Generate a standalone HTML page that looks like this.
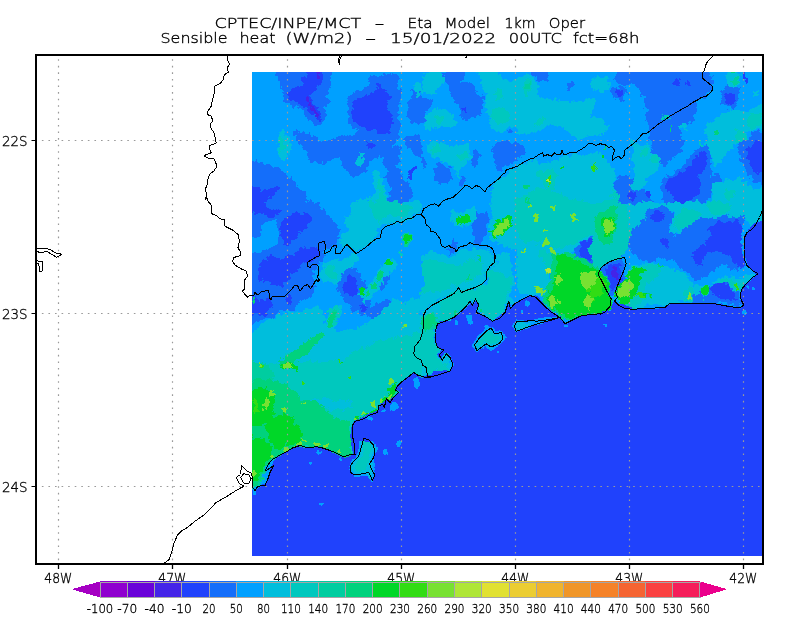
<!DOCTYPE html><html><head><meta charset="utf-8"><title>Sensible heat</title>
<style>html,body{margin:0;padding:0;background:#fff}svg{display:block}text{font-family:"DejaVu Sans","Liberation Sans",sans-serif;font-weight:200;fill:#000;stroke:#000;stroke-width:0.35px}</style></head><body>
<svg width="800" height="618" viewBox="0 0 800 618">
<rect width="800" height="618" fill="#fff"/>
<defs><clipPath id="fc"><rect x="252" y="72" width="510" height="484"/></clipPath></defs>
<filter id="wob" x="0" y="0" width="100%" height="100%" filterUnits="objectBoundingBox" color-interpolation-filters="sRGB"><feTurbulence type="fractalNoise" baseFrequency="0.045" numOctaves="3" seed="7" result="n"/><feDisplacementMap in="SourceGraphic" in2="n" scale="14" xChannelSelector="R" yChannelSelector="G" result="d1"/><feTurbulence type="fractalNoise" baseFrequency="0.22" numOctaves="2" seed="11" result="n2"/><feDisplacementMap in="d1" in2="n2" scale="7" xChannelSelector="G" yChannelSelector="R"/></filter>
<filter id="wob2" x="0" y="0" width="100%" height="100%" filterUnits="objectBoundingBox" color-interpolation-filters="sRGB"><feTurbulence type="fractalNoise" baseFrequency="0.09" numOctaves="2" seed="3" result="n"/><feDisplacementMap in="SourceGraphic" in2="n" scale="5" xChannelSelector="R" yChannelSelector="G"/></filter>
<g clip-path="url(#fc)" shape-rendering="crispEdges"><g filter="url(#wob)">
<rect x="222" y="42" width="570" height="544" fill="#00a0ff"/>
<rect x="252" y="72" width="510" height="484" fill="#00a0ff"/>
<polygon points="274.3,57.0 332.7,57.0 330.6,82.6 326.4,91.1 325.3,103.9 324.2,116.6 322.1,123.0 315.7,125.1 307.2,120.9 301.9,110.2 292.4,107.1 286.0,101.7 283.9,93.2 277.5,86.9" fill="#146efa"/>
<polygon points="345.5,101.7 356.1,91.1 368.9,84.7 377.4,76.2 388.0,74.1 398.6,78.4 400.7,93.2 398.6,106.0 396.5,114.5 400.7,125.1 398.6,135.7 392.2,142.1 400.7,146.4 398.6,161.2 388.0,165.5 379.5,157.0 371.0,161.2 366.7,169.7 360.4,174.0 354.0,178.2 345.5,171.9 343.4,163.4 337.0,157.0 326.4,161.2 315.7,165.5 309.4,161.2 305.1,152.7 300.9,144.2 294.5,142.1 290.2,133.6 294.5,129.4 303.0,133.6 313.6,135.7 322.1,142.1 332.7,142.1 343.4,137.9 354.0,135.7 358.2,129.4 351.9,120.9 347.6,112.4" fill="#146efa"/>
<polygon points="237.0,163.4 264.7,165.5 277.5,163.4 288.1,174.0 296.6,184.6 304.1,193.1 305.1,202.0 237.0,202.0" fill="#146efa"/>
<polygon points="388.0,163.4 400.7,167.6 405.0,178.2 410.3,191.0 408.2,202.0 388.0,202.0 391.2,191.0 385.9,178.2" fill="#146efa"/>
<polygon points="409.2,93.2 422.0,91.1 422.0,120.9 415.6,127.2 409.2,118.7 411.4,106.0" fill="#146efa"/>
<polygon points="407.1,135.7 422.0,133.6 422.0,161.2 413.5,157.0 408.2,146.4" fill="#146efa"/>
<polygon points="441.1,76.2 453.9,57.0 462.4,74.1 460.2,80.5 470.9,86.9 481.5,95.4 483.6,106.0 479.4,114.5 473.0,118.7 464.5,123.0 460.2,114.5 459.2,103.9 453.9,95.4 445.4,86.9 440.1,80.5" fill="#146efa"/>
<polygon points="494.2,144.2 507.0,142.1 515.5,146.4 521.9,152.7 524.0,157.0 515.5,163.4 507.0,165.5 502.7,169.7 496.4,169.7 492.1,161.2 494.2,152.7" fill="#146efa"/>
<ellipse cx="474.7" cy="155.9" rx="3.6" ry="9.6" fill="#146efa"/>
<polygon points="434.7,167.6 445.4,165.5 449.6,171.9 447.5,182.5 441.1,184.6 434.7,178.2" fill="#146efa"/>
<polygon points="422.0,97.5 429.4,99.6 428.4,108.1 422.0,112.4" fill="#146efa"/>
<ellipse cx="509.5" cy="131.5" rx="3.8" ry="2.1" fill="#146efa"/>
<ellipse cx="569.7" cy="86.9" rx="3.2" ry="4.2" fill="#146efa"/>
<polygon points="528.2,57.0 549.5,57.0 547.4,78.4 536.7,80.5 530.4,76.2" fill="#146efa"/>
<ellipse cx="446.4" cy="155.9" rx="3.2" ry="5.3" fill="#146efa"/>
<ellipse cx="462.4" cy="180.4" rx="4.2" ry="4.2" fill="#146efa"/>
<polygon points="422.0,157.0 426.2,159.1 426.2,167.6 422.0,168.7" fill="#146efa"/>
<polygon points="615.4,57.0 685.5,57.0 702.5,57.0 711.0,84.7 711.0,95.4 702.5,99.6 698.2,108.1 691.9,118.7 685.5,127.2 681.2,135.7 685.5,144.2 681.2,152.7 672.7,157.0 666.4,165.5 660.0,163.4 655.7,154.9 651.5,146.4 647.2,135.7 646.2,114.5 645.1,95.4 638.7,95.4 634.5,84.7 623.9,82.6 617.5,78.4" fill="#146efa"/>
<polygon points="664.2,178.2 672.7,171.9 683.4,163.4 691.9,152.7 700.4,144.2 708.9,146.4 711.0,157.0 708.9,167.6 711.0,178.2 719.5,174.0 723.7,182.5 715.2,191.0 706.7,199.5 704.6,202.0 664.2,202.0" fill="#146efa"/>
<polygon points="740.7,142.1 753.5,131.5 777.0,129.4 777.0,178.2 753.5,182.5 745.0,171.9 742.9,157.0" fill="#146efa"/>
<ellipse cx="730.1" cy="96.4" rx="8.5" ry="12.7" fill="#146efa"/>
<ellipse cx="619.6" cy="93.2" rx="6.4" ry="8.5" fill="#146efa"/>
<polygon points="617.5,178.2 628.1,171.9 634.5,178.2 636.6,188.9 647.2,191.0 653.6,199.5 651.5,202.0 613.2,202.0 615.4,191.0" fill="#146efa"/>
<polygon points="592.0,191.0 604.7,193.1 604.7,202.0 592.0,202.0" fill="#146efa"/>
<polygon points="237.0,202.0 322.1,202.0 324.2,214.7 337.0,223.2 341.2,233.9 337.0,244.5 324.2,250.9 322.1,259.4 315.7,265.7 313.6,276.4 317.9,287.0 311.5,295.5 300.9,299.7 294.5,308.2 281.7,312.5 269.0,321.0 237.0,323.1" fill="#146efa"/>
<polygon points="337.0,272.1 349.7,265.7 360.4,274.2 364.6,287.0 366.7,297.6 371.0,308.2 362.5,314.6 354.0,310.4 345.5,304.0 337.0,295.5 335.9,282.7" fill="#146efa"/>
<polygon points="377.4,282.7 388.0,274.2 392.2,280.6 383.7,291.2 375.2,289.1" fill="#146efa"/>
<polygon points="371.0,304.0 388.0,301.9 400.7,312.5 396.5,325.2 383.7,332.0 371.0,332.0 375.2,321.0 366.7,312.5" fill="#146efa"/>
<polygon points="473.0,214.7 485.7,212.6 487.9,227.5 483.6,240.2 475.1,242.4 470.9,229.6" fill="#146efa"/>
<polygon points="449.6,240.2 458.1,242.4 456.0,250.9 447.5,248.7" fill="#146efa"/>
<polygon points="577.1,238.1 592.0,233.9 592.0,263.6 583.5,263.6 577.1,253.0" fill="#146efa"/>
<polygon points="630.2,231.7 643.0,221.1 651.5,208.4 664.2,206.2 672.7,214.7 670.6,225.4 674.9,236.0 683.4,227.5 694.0,219.0 706.7,216.9 723.7,214.7 740.7,216.9 745.0,229.6 743.9,263.6 736.5,272.1 723.7,265.7 711.0,272.1 698.2,280.6 687.6,276.4 677.0,267.9 672.7,257.2 662.1,255.1 653.6,261.5 643.0,259.4 634.5,255.1 628.1,244.5" fill="#146efa"/>
<polygon points="694.0,291.2 711.0,284.9 730.1,287.0 740.7,293.4 740.7,308.2 711.0,302.9 694.0,301.9" fill="#146efa"/>
<polygon points="598.4,270.0 609.0,262.6 623.9,258.3 626.0,263.6 619.6,280.6 615.4,293.4 612.2,297.6 606.9,287.0 600.5,276.4" fill="#146efa"/>
<polygon points="305.1,332.0 354.0,332.0 341.2,338.4 315.7,338.4" fill="#146efa"/>
<polygon points="303.0,351.1 307.2,344.7 311.5,353.2 307.2,363.9 303.0,359.6" fill="#146efa"/>
<ellipse cx="273.2" cy="347.3" rx="3.2" ry="2.1" fill="#146efa"/>
<ellipse cx="330.6" cy="375.6" rx="1.7" ry="1.7" fill="#146efa"/>
<ellipse cx="335.9" cy="385.1" rx="1.3" ry="2.1" fill="#146efa"/>
<ellipse cx="588.0" cy="250.0" rx="7.0" ry="11.0" fill="#146efa"/>
<polygon points="288.1,93.2 300.9,84.7 307.2,76.2 315.7,57.0 325.3,57.0 322.1,80.5 315.7,84.7 313.6,93.2 315.7,103.9 320.0,114.5 317.9,119.8 311.5,114.5 305.1,106.0 298.7,101.7 290.2,99.6" fill="#2042fc"/>
<polygon points="351.9,103.9 358.2,97.5 371.0,93.2 379.5,85.8 384.8,87.9 388.0,97.5 386.9,110.2 390.1,120.9 388.0,131.5 379.5,133.6 375.2,129.4 371.0,130.4 364.6,127.2 358.2,120.9 351.9,114.5" fill="#2042fc"/>
<polygon points="362.5,143.2 371.0,141.1 374.2,145.3 368.9,149.6 362.9,147.4" fill="#2042fc"/>
<polygon points="237.0,182.5 264.7,186.7 277.5,184.6 280.7,191.0 273.2,197.4 264.7,202.0 237.0,202.0" fill="#2042fc"/>
<ellipse cx="411.8" cy="175.1" rx="2.1" ry="5.9" fill="#2042fc"/>
<ellipse cx="464.5" cy="109.2" rx="2.1" ry="3.8" fill="#2042fc"/>
<polygon points="668.5,178.2 677.0,174.0 685.5,167.6 694.0,157.0 700.4,148.5 704.6,150.6 702.5,163.4 700.4,174.0 702.5,184.6 698.2,195.2 689.7,202.0 672.7,202.0 668.5,191.0" fill="#2042fc"/>
<polygon points="749.2,142.1 777.0,135.7 777.0,171.9 755.6,174.0 750.3,163.4 748.2,152.7" fill="#2042fc"/>
<ellipse cx="730.1" cy="97.5" rx="4.2" ry="7.4" fill="#2042fc"/>
<ellipse cx="742.9" cy="78.4" rx="2.5" ry="5.3" fill="#2042fc"/>
<ellipse cx="619.6" cy="93.2" rx="3.2" ry="4.2" fill="#2042fc"/>
<ellipse cx="674.9" cy="80.5" rx="3.8" ry="4.2" fill="#2042fc"/>
<ellipse cx="687.6" cy="81.6" rx="3.2" ry="3.2" fill="#2042fc"/>
<ellipse cx="634.5" cy="195.2" rx="3.2" ry="4.2" fill="#2042fc"/>
<ellipse cx="649.4" cy="194.2" rx="2.5" ry="3.2" fill="#2042fc"/>
<polygon points="237.0,202.0 264.7,202.0 262.6,210.5 273.2,210.5 277.5,214.7 269.0,219.0 258.4,214.7 237.0,216.9" fill="#2042fc"/>
<polygon points="281.7,219.0 294.5,210.5 307.2,212.6 313.6,219.0 307.2,225.4 300.9,229.6 296.6,240.2 288.1,244.5 281.7,236.0 279.6,227.5" fill="#2042fc"/>
<polygon points="258.4,261.5 269.0,255.1 283.9,257.2 294.5,250.9 307.2,247.7 317.9,248.7 315.7,257.2 307.2,261.5 303.0,270.0 296.6,276.4 286.0,280.6 281.7,287.0 271.1,282.7 260.5,276.4 258.4,267.9" fill="#2042fc"/>
<polygon points="343.4,274.2 349.7,270.0 356.1,276.4 358.2,287.0 356.1,295.5 347.6,297.6 341.2,291.2 341.2,280.6" fill="#2042fc"/>
<polygon points="237.0,301.9 260.5,297.6 271.1,299.7 273.2,308.2 264.7,314.6 237.0,313.6" fill="#2042fc"/>
<ellipse cx="290.2" cy="297.6" rx="4.7" ry="4.7" fill="#2042fc"/>
<ellipse cx="361.4" cy="306.1" rx="3.2" ry="4.2" fill="#2042fc"/>
<polygon points="583.5,240.2 592.0,238.1 592.0,259.4 585.6,259.4 581.4,250.9" fill="#2042fc"/>
<polygon points="602.6,271.1 611.1,265.7 620.7,263.6 618.6,276.4 614.3,287.0 610.1,287.0 604.7,278.5" fill="#2042fc"/>
<polygon points="706.7,229.6 719.5,223.2 736.5,221.1 745.0,229.6 743.9,261.5 740.7,265.7 728.0,255.1 715.2,250.9 706.7,255.1 702.5,263.6 694.0,261.5 694.0,253.0 704.6,244.5 708.9,236.0" fill="#2042fc"/>
<ellipse cx="657.9" cy="216.9" rx="4.2" ry="6.4" fill="#2042fc"/>
<ellipse cx="665.3" cy="243.4" rx="3.2" ry="3.2" fill="#2042fc"/>
<polygon points="711.0,287.0 719.5,284.9 728.0,289.1 736.5,295.5 738.6,301.9 723.7,301.9 713.1,295.5" fill="#2042fc"/>
<ellipse cx="588.0" cy="250.0" rx="3.6" ry="7.0" fill="#2042fc"/>
<polygon points="315.7,77.3 318.9,57.0 323.2,57.0 319.6,79.4" fill="#4424e8"/>
<polygon points="308.9,97.5 311.5,96.4 316.8,116.6 314.7,117.7" fill="#4424e8"/>
<ellipse cx="612.2" cy="272.1" rx="3.2" ry="4.2" fill="#4424e8"/>
<ellipse cx="283.9" cy="145.3" rx="6.4" ry="12.7" fill="#00bedc"/>
<ellipse cx="361.4" cy="159.1" rx="3.8" ry="4.7" fill="#00bedc"/>
<polygon points="371.0,171.9 379.5,169.7 383.7,178.2 384.8,191.0 388.0,202.0 371.0,202.0 373.1,191.0 369.9,182.5" fill="#00bedc"/>
<ellipse cx="417.7" cy="91.1" rx="3.8" ry="6.4" fill="#00bedc"/>
<polygon points="473.0,57.0 492.1,57.0 502.7,80.5 515.5,78.4 524.0,76.2 536.7,82.6 541.0,93.2 553.7,97.5 570.7,99.6 592.0,97.5 592.0,135.7 579.2,142.1 568.6,135.7 558.0,127.2 545.2,129.4 534.6,133.6 521.9,131.5 515.5,125.1 507.0,127.2 496.4,133.6 487.9,129.4 484.7,120.9 486.8,110.2 485.7,95.4 479.4,84.7" fill="#00bedc"/>
<polygon points="428.4,142.1 443.2,140.0 456.0,144.2 468.7,142.1 470.9,157.0 466.6,167.6 456.0,174.0 451.7,165.5 443.2,163.4 434.7,161.2 430.5,152.7" fill="#00bedc"/>
<polygon points="422.0,114.5 430.5,110.2 443.2,108.1 456.0,114.5 458.1,125.1 447.5,129.4 434.7,127.2 422.0,131.5" fill="#00bedc"/>
<polygon points="422.0,74.1 439.0,57.0 442.2,82.6 436.9,93.2 428.4,95.4 422.0,91.1" fill="#00bedc"/>
<polygon points="507.0,174.0 521.9,165.5 536.7,159.1 549.5,161.2 560.1,165.5 566.5,174.0 564.4,186.7 558.0,202.0 504.9,202.0" fill="#00bedc"/>
<polygon points="592.0,114.5 604.7,116.6 611.1,125.1 604.7,135.7 592.0,135.7" fill="#00bedc"/>
<polygon points="592.0,80.5 602.6,76.2 613.2,80.5 611.1,91.1 600.5,93.2 592.0,91.1" fill="#00bedc"/>
<polygon points="630.2,142.1 645.1,144.2 655.7,152.7 662.1,161.2 655.7,171.9 645.1,182.5 638.7,191.0 632.4,184.6 634.5,171.9 630.2,161.2 628.1,150.6" fill="#00bedc"/>
<polygon points="706.7,120.9 719.5,114.5 732.2,110.2 745.0,108.1 777.0,103.9 777.0,131.5 753.5,129.4 745.0,135.7 736.5,144.2 728.0,152.7 719.5,161.2 713.1,165.5 711.0,152.7 706.7,144.2 711.0,135.7 704.6,131.5" fill="#00bedc"/>
<polygon points="715.2,186.7 728.0,178.2 740.7,182.5 753.5,186.7 777.0,186.7 777.0,202.0 711.0,202.0" fill="#00bedc"/>
<polygon points="685.5,120.9 691.9,123.0 687.6,131.5 683.4,129.4" fill="#00bedc"/>
<ellipse cx="732.7" cy="79.4" rx="5.3" ry="8.5" fill="#00bedc"/>
<ellipse cx="757.7" cy="94.3" rx="4.2" ry="3.2" fill="#00bedc"/>
<polygon points="592.0,152.7 600.5,154.9 602.6,167.6 598.4,178.2 592.0,178.2" fill="#00bedc"/>
<polygon points="354.0,202.0 422.0,202.0 422.0,214.7 413.5,216.9 400.7,221.1 383.7,225.4 377.4,238.1 366.7,246.6 356.1,253.0 347.6,244.5 341.2,240.2 345.5,227.5 343.4,214.7 351.9,210.5" fill="#00bedc"/>
<polygon points="324.2,263.6 341.2,257.2 358.2,255.1 362.5,261.5 349.7,265.7 339.1,272.1 334.9,280.6 326.4,280.6 322.1,272.1" fill="#00bedc"/>
<polygon points="358.2,295.5 371.0,282.7 379.5,267.9 392.2,259.4 398.6,265.7 390.1,276.4 383.7,282.7 377.4,291.2 368.9,297.6 362.5,301.9" fill="#00bedc"/>
<polygon points="326.4,321.0 332.7,310.4 341.2,304.0 345.5,310.4 341.2,321.0 334.9,327.4 324.2,332.0 315.7,332.0 320.0,325.2" fill="#00bedc"/>
<polygon points="288.1,314.6 303.0,308.2 315.7,312.5 322.1,323.1 315.7,332.0 290.2,332.0 286.0,323.1" fill="#00bedc"/>
<polygon points="513.4,202.0 592.0,202.0 592.0,236.0 577.1,238.1 575.0,255.1 558.0,257.2 549.5,272.1 553.7,287.0 545.2,295.5 532.5,293.4 521.9,295.5 515.5,287.0 517.6,265.7 515.5,244.5 513.4,223.2" fill="#00bedc"/>
<polygon points="422.0,255.1 434.7,250.9 447.5,253.0 464.5,250.9 477.2,246.6 492.1,250.9 494.2,261.5 485.7,272.1 483.6,282.7 464.5,291.2 449.6,295.5 434.7,301.9 422.0,312.5" fill="#00bedc"/>
<polygon points="453.9,210.5 475.1,210.5 473.0,223.2 460.2,227.5 451.7,221.1" fill="#00bedc"/>
<polygon points="492.1,214.7 511.2,212.6 517.6,227.5 511.2,244.5 496.4,244.5 490.0,233.9" fill="#00bedc"/>
<polygon points="628.1,202.0 777.0,202.0 777.0,212.6 749.2,227.5 740.7,219.0 723.7,214.7 706.7,216.9 694.0,219.0 683.4,227.5 674.9,233.9 671.7,223.2 672.7,212.6 664.2,206.2 651.5,208.4 643.0,221.1 630.2,231.7 628.1,219.0" fill="#00bedc"/>
<polygon points="626.0,272.1 645.1,261.5 662.1,263.6 672.7,272.1 685.5,280.6 702.5,284.9 711.0,282.7 732.2,278.5 747.1,274.2 755.6,273.2 745.0,284.9 738.6,293.4 728.0,287.0 711.0,284.9 694.0,291.2 694.0,301.9 670.6,302.9 664.2,307.2 634.5,309.3 623.9,306.1 615.4,301.9 619.6,287.0" fill="#00bedc"/>
<polygon points="237.0,353.2 264.7,351.1 283.9,346.9 305.1,353.2 322.1,344.7 341.2,342.6 362.5,344.7 379.5,338.4 400.7,332.0 422.0,332.0 422.0,462.0 237.0,462.0" fill="#00bedc"/>
<polygon points="422.5,315.0 426.2,310.0 440.0,301.2 453.8,293.8 458.8,287.5 461.2,292.5 475.0,287.5 487.0,278.8 486.2,272.5 494.5,262.5 495.5,255.0 510.0,255.0 512.5,290.0 515.0,302.5 508.8,301.2 505.0,312.5 500.0,318.0 492.5,321.2 476.2,312.5 478.8,305.0 475.5,298.8 470.0,301.2 461.2,311.2 453.8,317.5 437.5,323.8 435.0,340.0 437.5,347.5 443.8,350.0 450.0,357.5 453.0,364.5 450.0,371.2 431.2,377.0 415.0,377.0 411.2,373.8 400.0,382.5 400.0,315.0" fill="#00bedc"/>
<polygon points="495.0,185.0 510.0,172.5 540.0,162.5 572.5,155.0 595.0,150.0 610.0,162.5 615.0,180.0 617.5,202.5 630.0,215.0 625.0,235.0 610.0,245.0 590.0,235.0 572.5,250.0 552.5,250.0 527.5,245.0 505.0,250.0 490.0,240.0 490.0,202.5" fill="#00bedc"/>
<polygon points="237.0,340.1 264.7,323.1 286.0,312.5 315.7,308.2 324.2,318.9 337.0,331.6 358.2,329.5 371.0,321.0 383.7,312.5 400.7,301.9 422.0,295.5 422.0,400.0 237.0,400.0" fill="#00bedc"/>
<ellipse cx="282.2" cy="146.4" rx="3.0" ry="6.8" fill="#00c8be"/>
<polygon points="376.3,182.5 380.6,180.4 382.7,191.0 383.7,202.0 377.4,202.0" fill="#00c8be"/>
<polygon points="487.9,114.5 496.4,108.1 507.0,110.2 511.2,118.7 504.9,125.1 494.2,124.1" fill="#00c8be"/>
<ellipse cx="527.2" cy="86.9" rx="4.2" ry="7.4" fill="#00c8be"/>
<ellipse cx="541.0" cy="121.9" rx="4.2" ry="3.2" fill="#00c8be"/>
<ellipse cx="501.7" cy="95.4" rx="3.2" ry="4.2" fill="#00c8be"/>
<ellipse cx="437.9" cy="149.6" rx="3.2" ry="5.3" fill="#00c8be"/>
<ellipse cx="464.5" cy="157.0" rx="4.2" ry="4.2" fill="#00c8be"/>
<ellipse cx="436.9" cy="119.8" rx="6.4" ry="4.7" fill="#00c8be"/>
<polygon points="536.7,169.7 549.5,167.6 558.0,174.0 555.9,186.7 547.4,193.1 538.9,186.7" fill="#00c8be"/>
<ellipse cx="643.0" cy="151.7" rx="4.2" ry="5.3" fill="#00c8be"/>
<ellipse cx="655.7" cy="160.2" rx="4.2" ry="5.3" fill="#00c8be"/>
<ellipse cx="665.3" cy="118.3" rx="3.2" ry="2.1" fill="#00c8be"/>
<ellipse cx="741.8" cy="134.7" rx="5.3" ry="7.4" fill="#00c8be" transform="rotate(30 741.8 134.7)"/>
<ellipse cx="754.6" cy="120.9" rx="5.3" ry="6.4" fill="#00c8be"/>
<ellipse cx="730.1" cy="195.2" rx="6.4" ry="4.2" fill="#00c8be"/>
<ellipse cx="701.0" cy="141.1" rx="1.7" ry="4.7" fill="#00c8be"/>
<ellipse cx="615.4" cy="197.8" rx="4.2" ry="4.2" fill="#00c8be"/>
<polygon points="371.0,202.0 400.7,202.0 413.5,208.4 400.7,216.9 388.0,214.7 379.5,223.2 371.0,214.7" fill="#00c8be"/>
<ellipse cx="331.7" cy="271.1" rx="5.3" ry="5.3" fill="#00c8be"/>
<ellipse cx="400.7" cy="251.9" rx="2.1" ry="3.2" fill="#00c8be"/>
<polygon points="422.0,261.5 439.0,259.4 456.0,263.6 475.1,257.2 485.7,263.6 481.5,276.4 468.7,282.7 453.9,287.0 439.0,291.2 426.2,295.5 422.0,293.4" fill="#00c8be"/>
<polygon points="541.0,253.0 558.0,250.9 570.7,257.2 579.2,265.7 592.0,263.6 592.0,308.2 579.2,312.5 566.5,314.6 555.9,312.5 547.4,304.0 541.0,295.5 549.5,287.0 553.7,274.2 545.2,265.7" fill="#00c8be"/>
<polygon points="524.0,202.0 592.0,202.0 592.0,223.2 570.7,231.7 558.0,244.5 541.0,246.6 528.2,240.2 521.9,223.2" fill="#00c8be"/>
<polygon points="672.7,214.7 685.5,210.5 698.2,214.7 691.9,223.2 681.2,225.4 673.8,221.1" fill="#00c8be"/>
<polygon points="706.7,202.0 728.0,202.0 723.7,212.6 711.0,212.6" fill="#00c8be"/>
<polygon points="623.9,274.2 640.9,265.7 653.6,263.6 662.1,267.9 655.7,276.4 647.2,287.0 638.7,295.5 645.1,301.9 634.5,308.2 623.9,305.1 616.4,297.6 619.6,284.9" fill="#00c8be"/>
<polygon points="685.5,287.0 694.0,284.9 694.0,299.7 685.5,301.9" fill="#00c8be"/>
<polygon points="702.5,284.9 711.0,282.7 708.9,293.4 702.5,295.5" fill="#00c8be"/>
<polygon points="719.5,282.7 740.7,278.5 747.1,282.7 740.7,291.2 732.2,287.0 721.6,287.0" fill="#00c8be"/>
<polygon points="592.0,202.0 628.1,202.0 628.1,219.0 630.2,231.7 628.1,244.5 623.9,258.3 609.0,262.6 598.4,270.0 592.0,274.2" fill="#00c8be"/>
<polygon points="237.0,370.2 269.0,366.0 286.0,370.2 300.9,374.5 303.0,393.6 315.7,406.4 332.7,409.6 347.6,404.2 354.0,393.6 364.6,387.2 379.5,380.9 396.5,370.2 413.5,363.9 422.0,366.0 422.0,462.0 237.0,462.0" fill="#00c8be"/>
<polygon points="281.7,353.2 298.7,351.1 300.9,366.0 286.0,370.2" fill="#00c8be"/>
<polygon points="423.8,317.5 435.0,315.0 437.5,323.8 435.0,340.0 437.5,347.5 442.5,351.2 440.0,357.5 448.8,360.0 450.0,370.0 431.2,376.2 426.2,367.5 422.5,365.0 413.8,353.8 415.0,346.2 420.0,340.0 422.5,332.5" fill="#00c8be"/>
<polygon points="440.0,302.5 457.5,290.0 475.0,288.8 485.0,282.5 487.5,272.5 500.0,270.0 510.0,277.5 510.0,300.0 505.0,311.2 492.5,320.0 477.5,311.2 475.0,300.0 467.5,305.0 453.8,316.2 437.5,322.5" fill="#00c8be"/>
<polygon points="515.0,200.0 535.0,190.0 565.0,195.0 590.0,205.0 610.0,200.0 615.0,215.0 607.5,235.0 590.0,232.5 572.5,245.0 550.0,247.5 527.5,240.0 515.0,222.5" fill="#00c8be"/>
<polygon points="237.0,369.9 277.5,363.5 300.9,359.2 322.1,365.6 341.2,357.1 362.5,349.7 383.7,341.2 405.0,332.7 422.0,329.5 422.0,400.0 237.0,400.0" fill="#00c8be"/>
<ellipse cx="335.9" cy="315.7" rx="7.4" ry="9.6" fill="#00c8be"/>
<ellipse cx="527.6" cy="85.8" rx="1.9" ry="3.4" fill="#00cda0"/>
<ellipse cx="734.8" cy="82.2" rx="2.5" ry="2.5" fill="#00cda0"/>
<ellipse cx="406.1" cy="238.1" rx="5.5" ry="5.9" fill="#00cda0"/>
<polygon points="422.0,316.7 432.6,312.5 439.0,323.1 436.9,332.0 422.0,332.0" fill="#00cda0"/>
<polygon points="237.0,442.0 317.0,442.0 325.5,449.4 308.5,447.3 297.9,445.2 287.2,451.6 278.7,455.8 271.3,460.1 266.0,469.6 263.9,485.6 237.0,493.0" fill="#00cda0"/>
<ellipse cx="335.9" cy="315.7" rx="3.8" ry="5.3" fill="#00cda0"/>
<polygon points="237.0,361.4 264.7,363.5 277.5,372.0 273.2,389.0 264.7,400.0 237.0,400.0" fill="#00cda0"/>
<ellipse cx="524.0" cy="188.9" rx="2.1" ry="2.1" fill="#00d27d"/>
<ellipse cx="528.2" cy="199.5" rx="2.1" ry="2.1" fill="#00d27d"/>
<ellipse cx="673.8" cy="126.8" rx="1.7" ry="3.0" fill="#00d27d"/>
<ellipse cx="715.7" cy="136.8" rx="1.7" ry="1.7" fill="#00d27d"/>
<ellipse cx="732.7" cy="75.2" rx="1.7" ry="2.5" fill="#00d27d"/>
<ellipse cx="605.8" cy="148.5" rx="1.7" ry="1.3" fill="#00d27d"/>
<ellipse cx="380.6" cy="275.3" rx="3.8" ry="5.3" fill="#00d27d" transform="rotate(20 380.6 275.3)"/>
<ellipse cx="374.2" cy="285.9" rx="2.1" ry="4.2" fill="#00d27d" transform="rotate(20 374.2 285.9)"/>
<ellipse cx="367.8" cy="293.4" rx="1.7" ry="2.5" fill="#00d27d"/>
<ellipse cx="334.4" cy="318.4" rx="3.8" ry="7.6" fill="#00d27d" transform="rotate(30 334.4 318.4)"/>
<ellipse cx="255.8" cy="300.8" rx="1.7" ry="2.1" fill="#00d27d"/>
<polygon points="553.7,253.0 570.7,255.1 583.5,265.7 592.0,265.7 592.0,308.2 579.2,310.4 566.5,308.2 558.0,301.9 549.5,301.9 547.4,295.5 553.7,291.2 558.0,284.9 553.7,276.4 560.1,270.0 558.0,261.5" fill="#00d27d"/>
<polygon points="422.0,321.0 430.5,316.7 434.7,323.1 432.6,332.0 422.0,332.0" fill="#00d27d"/>
<ellipse cx="453.9" cy="312.5" rx="2.1" ry="1.7" fill="#00d27d"/>
<ellipse cx="479.4" cy="256.2" rx="1.7" ry="2.1" fill="#00d27d"/>
<ellipse cx="466.6" cy="280.6" rx="1.7" ry="1.7" fill="#00d27d"/>
<polygon points="619.6,280.6 626.0,274.2 634.5,272.1 636.6,282.7 632.4,295.5 628.1,304.0 621.7,301.9 616.4,293.4" fill="#00d27d"/>
<ellipse cx="650.4" cy="296.6" rx="3.2" ry="2.1" fill="#00d27d"/>
<ellipse cx="660.0" cy="265.7" rx="3.2" ry="2.5" fill="#00d27d"/>
<ellipse cx="755.6" cy="272.1" rx="1.9" ry="1.9" fill="#00d27d"/>
<polygon points="596.2,214.7 615.4,206.2 617.5,223.2 613.2,238.1 604.7,244.5 596.2,240.2 592.0,227.5" fill="#00d27d"/>
<polygon points="237.0,391.5 264.7,389.4 277.5,395.7 290.2,412.7 307.2,417.0 322.1,421.2 337.0,425.5 349.7,423.4 351.9,442.5 354.0,454.2 343.4,457.4 332.7,452.1 320.0,447.8 309.4,447.8 298.7,445.7 288.1,451.0 279.6,455.2 269.0,462.0 237.0,462.0" fill="#00d27d"/>
<ellipse cx="431.2" cy="322.5" rx="4.5" ry="9.5" fill="#00d27d"/>
<ellipse cx="453.8" cy="313.0" rx="2.0" ry="2.0" fill="#00d27d"/>
<ellipse cx="480.0" cy="312.5" rx="2.0" ry="2.0" fill="#00d27d"/>
<polygon points="550.0,254.0 568.0,250.0 582.0,258.0 598.0,268.0 604.0,280.0 610.0,290.0 614.0,300.0 610.0,312.0 580.0,318.0 560.0,318.0 544.0,306.0 542.0,294.0 550.0,284.0 552.0,270.0" fill="#00d27d"/>
<polygon points="237.0,442.0 295.7,442.0 287.2,451.6 278.7,455.8 271.3,460.1 266.0,469.6 259.6,485.6 237.0,487.7" fill="#00d27d"/>
<polygon points="237.0,382.0 272.0,379.5 297.0,389.5 314.5,404.5 337.0,414.5 349.5,422.0 352.0,432.0 349.5,452.0 332.0,449.5 314.5,445.8 299.5,444.5 284.5,452.0 269.5,462.0 237.0,472.0" fill="#00d27d"/>
<polygon points="279.6,359.2 294.5,350.7 307.2,340.1 322.1,327.4 326.4,331.6 315.7,344.4 305.1,355.0 292.4,365.6 283.9,369.9" fill="#00d27d"/>
<ellipse cx="562.7" cy="167.0" rx="1.3" ry="2.5" fill="#00d728"/>
<ellipse cx="605.8" cy="158.1" rx="2.5" ry="2.1" fill="#00d728"/>
<ellipse cx="389.1" cy="265.7" rx="3.8" ry="3.8" fill="#00d728"/>
<ellipse cx="362.5" cy="293.4" rx="2.1" ry="3.8" fill="#00d728"/>
<ellipse cx="406.1" cy="238.1" rx="3.8" ry="4.2" fill="#00d728" transform="rotate(30 406.1 238.1)"/>
<polygon points="579.2,272.1 592.0,267.9 592.0,304.0 583.5,301.9 577.1,291.2 579.2,282.7" fill="#00d728"/>
<polygon points="490.0,229.6 499.6,219.4 510.2,216.9 513.8,225.4 505.9,233.9 496.4,240.7 491.7,236.0" fill="#00d728"/>
<polygon points="456.0,221.1 462.4,215.8 470.9,216.9 468.7,222.2 460.2,225.4" fill="#00d728"/>
<ellipse cx="706.7" cy="288.1" rx="3.0" ry="3.8" fill="#00d728"/>
<polygon points="599.4,223.2 613.2,215.8 616.4,224.3 611.1,236.0 602.6,237.1" fill="#00d728"/>
<polygon points="592.0,267.9 598.4,270.0 600.5,276.4 606.9,287.0 612.2,297.6 611.1,310.4 592.0,315.7" fill="#00d728"/>
<polygon points="264.7,417.0 286.0,417.0 303.0,423.4 300.9,431.9 288.1,438.2 277.5,442.5 269.0,438.2" fill="#00d728"/>
<polygon points="237.0,391.5 260.5,393.6 262.6,412.7 237.0,417.0" fill="#00d728"/>
<polygon points="351.9,421.2 364.6,412.7 377.4,406.4 385.9,395.7 396.5,387.2 400.7,383.0 398.6,393.6 388.0,402.1 379.5,405.3 377.4,410.6 364.6,415.9 354.0,421.2" fill="#00d728"/>
<ellipse cx="290.2" cy="364.9" rx="7.4" ry="4.7" fill="#00d728"/>
<polygon points="556.0,256.0 566.0,254.0 578.0,260.0 586.0,266.0 596.0,270.0 600.0,280.0 606.0,288.0 611.0,298.0 608.0,308.0 600.0,313.0 580.0,315.0 566.0,316.0 558.0,310.0 548.0,304.0 546.0,296.0 552.0,288.0 554.0,280.0 556.0,270.0" fill="#00d728"/>
<polygon points="616.0,286.0 620.0,278.0 628.0,272.0 640.0,268.0 646.0,270.0 640.0,280.0 636.0,290.0 632.0,300.0 624.0,306.0 616.0,300.0" fill="#00d728"/>
<ellipse cx="640.0" cy="296.0" rx="5.0" ry="2.8" fill="#00d728"/>
<ellipse cx="651.0" cy="297.0" rx="2.4" ry="1.6" fill="#00d728"/>
<polygon points="237.0,446.2 274.5,444.1 272.4,456.9 263.9,467.5 257.5,480.2 237.0,482.4" fill="#00d728"/>
<polygon points="237.0,389.5 267.0,389.5 274.5,404.5 269.5,419.5 259.5,427.0 237.0,424.5" fill="#00d728"/>
<polygon points="267.0,427.0 289.5,422.0 302.0,432.0 299.5,442.0 282.0,447.0 269.5,442.0" fill="#00d728"/>
<polygon points="237.0,437.0 264.5,439.5 267.0,452.0 257.0,459.5 237.0,457.0" fill="#00d728"/>
<ellipse cx="341.2" cy="359.2" rx="1.7" ry="1.7" fill="#00d728"/>
<ellipse cx="548.4" cy="179.7" rx="2.8" ry="4.2" fill="#32dc14"/>
<ellipse cx="595.2" cy="166.6" rx="1.7" ry="5.3" fill="#32dc14"/>
<polygon points="584.6,274.2 592.0,273.2 592.0,291.2 586.7,290.2" fill="#32dc14"/>
<ellipse cx="637.7" cy="295.5" rx="3.2" ry="2.5" fill="#32dc14"/>
<ellipse cx="736.9" cy="285.9" rx="1.9" ry="3.8" fill="#32dc14"/>
<polygon points="592.0,274.2 597.3,276.4 602.6,287.0 600.5,297.6 592.0,301.9" fill="#32dc14"/>
<ellipse cx="300.4" cy="381.9" rx="1.7" ry="1.7" fill="#32dc14"/>
<ellipse cx="350.2" cy="377.7" rx="1.7" ry="1.7" fill="#32dc14"/>
<ellipse cx="340.8" cy="359.6" rx="1.7" ry="1.7" fill="#32dc14"/>
<ellipse cx="252.6" cy="404.2" rx="2.1" ry="6.4" fill="#32dc14"/>
<ellipse cx="262.2" cy="366.7" rx="2.1" ry="3.0" fill="#32dc14"/>
<ellipse cx="349.7" cy="377.3" rx="2.1" ry="1.7" fill="#32dc14"/>
<ellipse cx="300.4" cy="381.1" rx="1.7" ry="1.7" fill="#32dc14"/>
<ellipse cx="406.1" cy="324.2" rx="1.3" ry="2.5" fill="#78e132"/>
<polygon points="492.5,230.0 500.6,221.5 509.1,219.4 511.2,225.4 504.9,231.7 496.4,238.1 493.4,233.9" fill="#78e132"/>
<ellipse cx="535.7" cy="218.6" rx="2.8" ry="3.4" fill="#78e132"/>
<ellipse cx="552.7" cy="209.4" rx="1.9" ry="3.8" fill="#78e132"/>
<ellipse cx="545.2" cy="229.6" rx="2.3" ry="2.3" fill="#78e132"/>
<ellipse cx="547.4" cy="245.6" rx="2.3" ry="3.8" fill="#78e132"/>
<ellipse cx="527.2" cy="248.7" rx="1.7" ry="1.7" fill="#78e132"/>
<ellipse cx="548.4" cy="268.9" rx="3.0" ry="2.8" fill="#78e132"/>
<ellipse cx="539.9" cy="288.1" rx="3.4" ry="3.4" fill="#78e132"/>
<ellipse cx="558.0" cy="278.5" rx="2.8" ry="3.8" fill="#78e132"/>
<ellipse cx="573.9" cy="220.1" rx="2.8" ry="3.4" fill="#78e132"/>
<ellipse cx="553.7" cy="250.9" rx="1.7" ry="2.5" fill="#78e132"/>
<ellipse cx="529.3" cy="203.1" rx="1.7" ry="1.7" fill="#78e132"/>
<ellipse cx="553.7" cy="298.7" rx="5.1" ry="4.7" fill="#78e132"/>
<ellipse cx="562.7" cy="300.2" rx="2.1" ry="2.1" fill="#78e132"/>
<polygon points="621.7,282.7 629.2,278.5 632.4,287.0 628.1,297.6 621.7,295.5" fill="#78e132"/>
<ellipse cx="690.8" cy="294.4" rx="1.9" ry="3.6" fill="#78e132"/>
<polygon points="601.6,225.4 606.9,221.1 612.2,219.0 614.3,223.2 610.1,231.7 604.7,234.9 601.6,231.7" fill="#78e132"/>
<ellipse cx="290.2" cy="364.9" rx="5.1" ry="2.8" fill="#78e132"/>
<ellipse cx="283.9" cy="412.7" rx="2.5" ry="3.8" fill="#78e132"/>
<ellipse cx="265.8" cy="403.2" rx="2.5" ry="5.3" fill="#78e132"/>
<ellipse cx="271.1" cy="396.8" rx="1.7" ry="3.2" fill="#78e132"/>
<ellipse cx="261.6" cy="366.0" rx="1.7" ry="2.5" fill="#78e132"/>
<ellipse cx="304.1" cy="402.1" rx="1.7" ry="2.1" fill="#78e132"/>
<ellipse cx="392.2" cy="385.1" rx="2.5" ry="3.8" fill="#78e132"/>
<ellipse cx="375.2" cy="403.2" rx="2.1" ry="2.1" fill="#78e132"/>
<ellipse cx="382.7" cy="398.9" rx="2.1" ry="2.1" fill="#78e132"/>
<ellipse cx="391.2" cy="395.7" rx="2.1" ry="2.1" fill="#78e132"/>
<ellipse cx="362.5" cy="412.7" rx="2.1" ry="2.1" fill="#78e132"/>
<ellipse cx="355.1" cy="418.7" rx="2.1" ry="2.1" fill="#78e132"/>
<ellipse cx="369.9" cy="411.7" rx="1.7" ry="1.7" fill="#78e132"/>
<ellipse cx="273.2" cy="455.2" rx="2.5" ry="2.1" fill="#78e132"/>
<ellipse cx="287.1" cy="448.9" rx="1.7" ry="2.1" fill="#78e132"/>
<ellipse cx="297.7" cy="443.6" rx="1.7" ry="2.1" fill="#78e132"/>
<ellipse cx="317.9" cy="444.2" rx="3.2" ry="2.1" fill="#78e132"/>
<ellipse cx="328.5" cy="446.7" rx="2.1" ry="2.1" fill="#78e132"/>
<ellipse cx="339.1" cy="448.9" rx="1.7" ry="2.5" fill="#78e132"/>
<ellipse cx="303.0" cy="440.4" rx="1.3" ry="2.1" fill="#78e132"/>
<polygon points="580.0,272.0 590.0,268.0 596.0,276.0 594.0,286.0 586.0,288.0 580.0,282.0" fill="#78e132"/>
<polygon points="584.0,296.0 592.0,294.0 594.0,304.0 588.0,308.0 583.0,304.0" fill="#78e132"/>
<polygon points="548.0,298.0 558.0,296.0 560.0,304.0 552.0,308.0" fill="#78e132"/>
<polygon points="556.0,278.0 562.0,276.0 563.0,284.0 557.0,285.0" fill="#78e132"/>
<ellipse cx="540.0" cy="289.0" rx="4.0" ry="3.6" fill="#78e132"/>
<ellipse cx="547.0" cy="246.0" rx="2.4" ry="3.6" fill="#78e132"/>
<ellipse cx="545.0" cy="229.6" rx="2.4" ry="2.0" fill="#78e132"/>
<ellipse cx="527.0" cy="248.6" rx="1.6" ry="1.6" fill="#78e132"/>
<ellipse cx="554.0" cy="251.0" rx="1.6" ry="2.0" fill="#78e132"/>
<polygon points="620.0,282.0 628.0,278.0 632.0,284.0 630.0,294.0 624.0,300.0 619.0,294.0" fill="#78e132"/>
<polygon points="602.0,226.0 608.0,221.0 614.0,222.0 613.0,228.0 608.0,234.0 603.0,233.0" fill="#78e132"/>
<ellipse cx="272.4" cy="455.8" rx="2.1" ry="2.1" fill="#78e132"/>
<ellipse cx="286.2" cy="450.5" rx="1.7" ry="2.1" fill="#78e132"/>
<ellipse cx="295.7" cy="444.5" rx="2.1" ry="1.7" fill="#78e132"/>
<ellipse cx="317.0" cy="444.5" rx="2.1" ry="1.7" fill="#78e132"/>
<ellipse cx="338.2" cy="448.4" rx="1.7" ry="2.1" fill="#78e132"/>
<ellipse cx="329.7" cy="446.2" rx="1.7" ry="1.7" fill="#78e132"/>
<ellipse cx="255.4" cy="473.9" rx="1.7" ry="3.0" fill="#78e132"/>
<ellipse cx="265.8" cy="403.2" rx="3.0" ry="5.5" fill="#78e132"/>
<ellipse cx="284.0" cy="412.5" rx="2.5" ry="3.5" fill="#78e132"/>
<ellipse cx="290.0" cy="365.0" rx="4.5" ry="3.5" fill="#78e132"/>
<ellipse cx="272.0" cy="397.0" rx="2.0" ry="3.0" fill="#78e132"/>
<ellipse cx="290.2" cy="364.6" rx="5.1" ry="3.4" fill="#78e132"/>
<ellipse cx="406.1" cy="324.2" rx="1.3" ry="2.5" fill="#78e132"/>
<ellipse cx="548.6" cy="179.9" rx="1.5" ry="2.5" fill="#afe637"/>
<ellipse cx="548.4" cy="268.4" rx="3.0" ry="2.4" fill="#afe637"/>
</g><g filter="url(#wob2)">
<polygon points="262.6,223.2 275.4,219.0 279.6,231.7 277.5,244.5 264.7,250.9 237.0,255.1 237.0,240.2 260.5,236.0" fill="#00a0ff"/>
<polygon points="237.0,487.7 255.4,490.9 259.6,485.6 266.0,484.5 271.5,468.0 273.5,460.1 278.7,455.8 287.2,451.6 297.9,445.2 308.5,447.3 317.0,446.2 325.5,449.4 336.1,453.7 344.6,457.9 354.0,454.2 351.9,442.5 350.8,427.6 354.0,421.2 364.6,415.9 377.4,410.6 379.5,404.2 385.9,398.9 388.0,402.1 398.6,393.6 394.4,389.4 400.7,383.0 407.1,377.7 413.5,372.4 417.7,376.6 422.0,377.7 432.0,375.0 433.2,371.2 449.5,371.2 453.2,365.0 449.5,357.5 444.5,352.5 442.0,358.8 438.2,353.8 443.2,348.8 437.0,347.5 434.5,337.5 435.8,327.5 439.5,321.2 449.5,321.2 459.5,315.0 465.8,307.5 469.5,302.5 472.0,306.2 475.8,298.8 478.2,305.0 475.8,311.2 484.5,315.0 492.0,321.2 499.5,317.5 505.8,310.0 509.5,301.2 511.5,307.5 514.5,303.8 522.0,298.8 532.0,295.5 537.0,297.5 544.5,305.0 552.0,311.2 560.8,317.5 565.8,323.8 574.5,319.5 582.0,316.2 597.0,313.8 611.1,310.4 614.3,300.8 623.9,306.1 634.5,309.3 664.2,307.2 670.6,302.9 711.0,302.9 728.0,305.1 740.7,308.2 742.9,306.1 739.7,299.7 738.6,293.4 745.0,284.9 757.7,274.2 749.2,267.9 745.0,261.5 743.9,236.0 749.2,229.6 755.6,223.2 777.0,214.7 777.0,200.0 777.0,571.0 237.0,571.0 237.0,487.7" fill="#2042fc"/>
<polygon points="472.0,346.2 475.8,338.8 487.0,327.5 493.2,326.2 495.8,331.2 502.0,330.0 505.8,338.8 498.2,346.2 489.5,350.0 484.5,346.2 478.2,353.8" fill="#00a0ff"/>
<polygon points="474.5,346.2 477.0,340.0 487.0,330.0 492.0,328.8 494.5,333.8 500.8,332.5 503.2,338.8 497.0,343.8 489.5,347.5 484.5,343.8 478.2,351.2" fill="#00bedc"/>
<polygon points="477.5,343.8 487.0,332.5 491.5,332.0 493.5,336.2 499.5,335.5 500.0,339.5 494.5,342.5 489.0,344.5 484.5,341.2 480.0,347.0" fill="#00c8be"/>
<polygon points="513.2,326.2 515.8,320.0 529.5,319.5 542.0,318.8 552.0,317.5 560.8,317.0 552.0,320.0 537.0,324.5 529.5,327.0 517.0,332.5" fill="#00a0ff"/>
<polygon points="515.8,326.2 517.5,321.8 529.5,321.5 529.5,326.0 517.5,330.8" fill="#00bedc"/>
<ellipse cx="527.0" cy="303.8" rx="3.5" ry="2.5" fill="#00a0ff"/>
<ellipse cx="469.5" cy="320.0" rx="3.0" ry="4.5" fill="#00a0ff"/>
<ellipse cx="457.0" cy="322.5" rx="2.0" ry="2.0" fill="#00a0ff"/>
<ellipse cx="487.0" cy="327.5" rx="2.5" ry="2.0" fill="#00a0ff"/>
<ellipse cx="522.0" cy="311.2" rx="1.5" ry="1.5" fill="#00a0ff"/>
<ellipse cx="565.8" cy="325.0" rx="2.0" ry="1.5" fill="#00a0ff"/>
<ellipse cx="498.2" cy="351.2" rx="1.2" ry="1.5" fill="#00a0ff"/>
<ellipse cx="607.0" cy="325.5" rx="1.2" ry="1.2" fill="#00a0ff"/>
<polygon points="357.4,442.0 374.4,442.0 377.6,450.5 372.7,461.1 376.1,473.9 372.2,482.4 366.9,475.6 355.2,477.1 347.8,470.7 351.0,461.1 358.4,452.6" fill="#00a0ff"/>
<polygon points="359.5,442.0 372.2,442.0 375.4,450.5 370.1,461.1 373.3,473.9 371.2,480.2 366.9,472.8 355.2,474.9 349.9,469.6 353.1,461.1 360.6,452.6" fill="#00bedc"/>
<polygon points="362.0,442.0 370.1,442.0 372.2,450.5 368.0,460.1 365.9,469.6 357.4,471.7 354.2,467.5 357.4,461.1 363.7,452.6" fill="#00c8be"/>
<ellipse cx="311.7" cy="462.6" rx="1.7" ry="1.7" fill="#00a0ff"/>
<ellipse cx="321.2" cy="503.6" rx="2.1" ry="2.1" fill="#00a0ff"/>
<ellipse cx="384.6" cy="452.2" rx="2.3" ry="2.3" fill="#00a0ff"/>
<ellipse cx="255.4" cy="493.0" rx="1.7" ry="2.1" fill="#00a0ff"/>
<ellipse cx="319.1" cy="451.6" rx="1.5" ry="1.5" fill="#00a0ff"/>
<ellipse cx="341.4" cy="460.1" rx="1.3" ry="1.7" fill="#00a0ff"/>
<ellipse cx="393.9" cy="406.8" rx="3.8" ry="3.8" fill="#00a0ff"/>
<ellipse cx="416.7" cy="383.0" rx="3.0" ry="5.3" fill="#00a0ff"/>
<ellipse cx="368.9" cy="418.1" rx="3.0" ry="1.7" fill="#00a0ff"/>
<ellipse cx="398.6" cy="443.6" rx="2.1" ry="3.2" fill="#00a0ff"/>
<ellipse cx="384.8" cy="453.1" rx="3.2" ry="2.5" fill="#00a0ff"/>
<ellipse cx="320.0" cy="452.1" rx="2.1" ry="1.7" fill="#00a0ff"/>
<ellipse cx="382.7" cy="411.7" rx="2.1" ry="1.7" fill="#00a0ff"/>
<ellipse cx="743.9" cy="312.5" rx="1.7" ry="3.0" fill="#00a0ff"/>
<ellipse cx="753.5" cy="289.1" rx="1.7" ry="1.7" fill="#00a0ff"/>
<ellipse cx="606.9" cy="325.2" rx="1.5" ry="1.5" fill="#00a0ff"/>
<ellipse cx="748.2" cy="287.0" rx="1.7" ry="1.7" fill="#00a0ff"/>
</g></g>
<line x1="58.5" y1="56" x2="58.5" y2="563" stroke="#9a9a9a" stroke-width="1.2" stroke-dasharray="1.6 4.97" fill="none" stroke-dashoffset="3.35"/>
<line x1="172.5" y1="56" x2="172.5" y2="563" stroke="#9a9a9a" stroke-width="1.2" stroke-dasharray="1.6 4.97" fill="none" stroke-dashoffset="3.35"/>
<line x1="287.5" y1="56" x2="287.5" y2="563" stroke="#9a9a9a" stroke-width="1.2" stroke-dasharray="1.6 4.97" fill="none" stroke-dashoffset="3.35"/>
<line x1="401.5" y1="56" x2="401.5" y2="563" stroke="#9a9a9a" stroke-width="1.2" stroke-dasharray="1.6 4.97" fill="none" stroke-dashoffset="3.35"/>
<line x1="515.5" y1="56" x2="515.5" y2="563" stroke="#9a9a9a" stroke-width="1.2" stroke-dasharray="1.6 4.97" fill="none" stroke-dashoffset="3.35"/>
<line x1="629.5" y1="56" x2="629.5" y2="563" stroke="#9a9a9a" stroke-width="1.2" stroke-dasharray="1.6 4.97" fill="none" stroke-dashoffset="3.35"/>
<line x1="743.5" y1="56" x2="743.5" y2="563" stroke="#9a9a9a" stroke-width="1.2" stroke-dasharray="1.6 4.97" fill="none" stroke-dashoffset="3.35"/>
<line x1="37" y1="140.5" x2="762" y2="140.5" stroke="#9a9a9a" stroke-width="1.2" stroke-dasharray="1.6 4.97" fill="none" stroke-dashoffset="1.7"/>
<line x1="37" y1="313.5" x2="762" y2="313.5" stroke="#9a9a9a" stroke-width="1.2" stroke-dasharray="1.6 4.97" fill="none" stroke-dashoffset="1.7"/>
<line x1="37" y1="486.5" x2="762" y2="486.5" stroke="#9a9a9a" stroke-width="1.2" stroke-dasharray="1.6 4.97" fill="none" stroke-dashoffset="1.7"/>
<g clip-path="url(#mc)" fill="none" stroke="#000" stroke-width="1" stroke-linejoin="round" shape-rendering="crispEdges">
<clipPath id="mc"><rect x="36" y="55" width="727" height="508"/></clipPath>
<polyline points="227.5,55.5 228.0,61.2 229.5,63.8 227.5,67.5 228.2,72.5 224.5,74.5 223.0,80.0 220.0,83.8 217.5,84.5 215.0,86.2 214.5,92.5 212.5,100.0 211.2,106.2 208.0,111.2 207.5,114.5 211.2,116.2 213.0,121.2 210.0,123.8 210.5,127.5 213.8,132.5 215.5,138.8 216.2,143.0 212.5,144.5 209.5,145.5 210.0,150.0 211.2,153.0 206.2,154.5 204.5,156.2 207.5,158.0 213.8,158.8 216.2,163.8 216.2,167.5 213.8,171.2 210.0,173.8 208.0,178.8 207.0,185.0 205.5,188.8 206.2,193.8 205.8,200.0"/>
<polyline points="340.2,55.5 338.5,59.5 339.2,64.2 339.8,59.5 341.5,55.5"/>
<polyline points="206.2,196.2 208.0,201.2 211.2,205.0 212.0,213.8 217.5,216.2 220.0,218.8 224.5,220.0 225.0,226.2 232.5,230.0 238.8,235.0 239.2,242.5 238.0,247.5 240.0,251.2 240.8,255.5 233.8,257.5 232.5,261.2 235.0,265.0 241.2,268.8 246.2,271.2 247.5,276.2 244.5,280.0 244.5,288.8 242.5,291.2 245.5,295.0 247.5,297.0 250.0,295.0 253.8,295.5 255.0,292.5 257.0,294.5 259.5,293.8 262.0,291.2 268.8,290.8 269.5,297.5 270.8,300.0 272.0,297.0 277.5,296.8 285.0,296.2 290.0,291.2 295.0,285.0 298.0,286.2 300.0,291.2 303.8,286.2 307.5,284.5 310.5,288.8 313.8,283.8 316.2,279.5 318.0,282.0 319.5,280.0 317.5,277.5 318.8,272.5 318.0,266.2 316.2,264.5 312.5,264.5 310.0,267.5 307.5,266.2 307.0,263.0 310.0,260.5 316.2,257.0 320.0,255.5 318.8,250.0 318.8,243.0 324.5,241.2 325.5,246.2 324.5,253.8 330.0,251.2 332.5,246.2 336.2,245.5 335.5,253.8 340.0,253.8 345.0,246.2 347.0,244.5 351.2,248.8 356.2,253.8 360.0,251.2 366.2,247.0 371.2,242.5 376.2,238.8 380.0,238.0"/>
<polyline points="380.0,238.0 382.0,230.0 386.2,226.2 393.8,223.8 397.0,221.2 401.2,223.0 407.0,218.8 411.2,218.8 416.2,215.0 421.2,214.5 423.8,208.8 430.0,205.0 434.5,203.8 438.8,206.2 442.5,201.2 448.0,198.8 453.0,197.5 456.2,194.5 462.5,188.8 465.0,185.5 468.8,186.2 472.0,188.8 476.2,185.5 480.0,187.0 485.0,192.0 487.5,187.5 493.8,182.5 498.8,178.8 502.5,174.5 505.0,173.0 506.2,170.0 512.5,168.0 517.5,166.2 522.5,163.0 528.8,159.5 533.8,158.0 540.0,153.8 542.5,153.0 543.8,156.2 547.5,154.5 551.2,156.2 554.5,153.0 557.0,155.0 561.2,153.8 562.0,150.5 563.8,155.0 567.5,153.8 570.0,152.5"/>
<polyline points="421.2,214.5 425.0,218.8 426.2,225.0 430.0,227.5 430.5,231.2 435.5,232.5 438.0,236.2 440.5,239.5 441.2,245.5 445.0,247.5 448.8,245.5 451.2,247.5 455.0,248.8 456.2,252.0 458.8,247.5 462.5,246.2 466.2,245.5 470.0,242.5 473.8,244.5 477.5,244.5 481.2,245.5 486.2,245.5 491.2,247.5 493.8,251.2 495.0,258.8"/>
<polyline points="570.0,152.5 575.0,153.0 580.0,150.0 585.0,147.0 588.8,143.0 592.5,143.8 596.2,145.5 600.0,143.8 605.0,144.5 608.8,147.5 611.2,146.2 614.5,150.0 613.0,155.0 612.0,161.2 615.0,158.0 618.8,156.2 621.2,158.8 624.5,155.0 625.0,150.0 630.0,146.2 636.2,141.2 642.5,133.8 647.5,133.0 652.5,128.8 658.8,123.8 665.0,120.0 670.0,116.2 676.2,112.5 682.5,108.8 687.5,106.2 692.5,102.5 697.5,100.0 701.2,97.5 706.2,96.2 710.0,93.0 712.5,90.0 712.0,86.2 708.0,82.5 705.0,80.5 702.0,77.5 702.0,73.8 704.5,70.0 706.2,63.8 708.8,60.0 712.5,56.2 713.8,53.8"/>
<polyline points="163.8,565.0 165.0,562.5 168.8,560.0 171.2,553.8 173.8,543.8 177.5,535.0 181.2,531.2 187.5,527.5 195.0,521.2 203.8,515.0 210.0,508.8 216.2,502.5 225.0,497.5 235.0,491.2 243.8,486.2 239.5,483.8 236.2,477.5 240.5,474.5 241.5,465.8 246.2,470.5 251.2,473.0 253.0,480.0 252.0,483.8 253.0,488.0 255.0,490.5 258.0,486.2 265.0,485.5 267.5,480.0 270.0,472.5 273.8,465.5 265.0,471.2 269.5,462.5 272.5,459.5 280.0,455.0 286.2,452.0 292.5,448.0 300.0,445.5 305.0,447.0 310.0,448.0 316.2,446.5 322.5,448.0 330.0,450.5 336.2,453.0 343.8,457.0 350.0,454.5"/>
<polyline points="240.5,477.5 243.8,473.8 248.8,474.5 251.2,478.8 248.8,483.0 243.8,483.0 240.5,477.5"/>
<polyline points="350.0,454.5 355.0,454.5 354.5,445.0 352.5,436.2 352.0,426.2 355.0,421.2 362.5,419.5 370.0,415.0 377.5,412.5 378.8,405.5 382.5,404.5 384.5,407.0 386.2,398.8 390.0,402.5 394.5,396.2 398.8,392.5 395.5,390.0 397.5,386.2 402.5,381.2 407.5,377.5 413.8,372.5 417.5,375.0 423.8,377.0 431.2,377.5"/>
<polyline points="363.8,438.2 368.8,440.0 373.0,444.5 375.0,451.2 373.8,457.5 369.5,463.8 371.2,468.8 375.0,475.0 372.5,480.5 370.0,475.0 368.8,472.5 362.5,473.8 355.0,475.0 350.5,472.5 350.0,466.2 353.8,461.2 358.8,456.2 361.2,447.5 363.8,438.2"/>
<polyline points="495.5,255.0 494.5,262.5 490.0,266.2 486.2,272.5 487.0,278.8 482.5,283.8 475.0,287.5 467.5,290.0 461.2,292.5 458.8,287.5 453.8,293.8 447.5,297.0 440.0,301.2 432.5,305.0 426.2,310.0 423.8,315.0 423.8,322.5 422.5,332.5 420.0,340.0 415.0,346.2 413.8,353.8 416.2,357.5 421.2,360.0 422.5,365.0 426.2,367.5 427.5,376.2 431.2,377.0"/>
<polyline points="431.2,377.0 450.0,371.2 453.0,364.5 450.0,357.5 446.2,353.8 442.5,360.0 438.8,355.0 443.8,350.0 437.5,347.5 435.0,340.0 435.0,332.5 437.5,323.8 445.0,321.2 453.8,317.5 461.2,311.2 466.2,306.2 470.0,301.2 472.5,305.5 475.5,298.8 478.8,305.0 476.2,312.5 485.0,316.2 492.5,321.2 500.0,318.0 505.0,312.5 508.8,301.2 510.5,308.8 513.8,304.5 521.2,300.0 530.0,295.5 536.2,297.5 543.8,305.5 551.2,312.0 560.0,317.5 565.0,323.8 572.5,320.0 580.0,316.2 590.0,314.5 600.0,313.8"/>
<polyline points="560.0,317.5 550.0,320.5 540.0,323.0 530.0,326.2 520.0,330.0 516.2,331.2 514.5,326.2 517.0,321.2 525.0,322.0 530.0,320.0 536.2,321.2 550.0,319.5 560.0,317.5"/>
<polyline points="477.0,350.8 474.5,345.0 478.8,338.8 486.2,331.2 491.2,328.0 494.5,333.8 501.2,332.5 503.0,338.8 498.8,343.8 491.2,347.0 486.2,343.8 481.2,347.5 477.0,350.8"/>
<polyline points="600.0,314.2 605.0,312.0 610.0,306.2 611.2,298.8 606.2,290.0 602.5,282.5 598.0,273.8 601.2,267.5 608.8,262.0 617.5,258.8 624.5,257.5 626.2,263.8 623.0,272.5 618.8,282.5 615.5,291.2 617.5,297.5 614.5,301.2 620.0,306.2 626.2,308.8 633.8,309.2 645.0,308.5 665.0,307.5 670.0,303.0 685.0,303.0 700.0,303.0 715.0,303.8 727.5,306.2 740.0,308.0 743.8,305.0 741.2,300.0 740.0,295.0 742.0,288.8 746.2,283.8 752.5,277.5 758.0,273.8 752.5,270.5 747.0,265.5 744.5,260.0 744.0,250.0 744.5,237.5 747.0,232.5 752.5,228.8 756.2,223.8 759.5,217.5 762.0,211.2"/>
<polyline points="36.5,248.5 44.5,248.5 49.5,249.2 56.0,253.0 62.0,254.2 56.5,257.2 51.0,254.0 46.5,251.2 42.5,252.5 39.0,252.2 36.5,251.0"/>
<polyline points="36.5,260.0 38.0,261.2 42.5,261.5 42.5,268.5 41.8,271.5 39.5,271.5 38.8,264.0 36.5,262.5"/>
<polyline points="467.0,56.0 465.5,58.5"/>
</g>
<rect x="36" y="55" width="727" height="509" fill="none" stroke="#000" stroke-width="2" shape-rendering="crispEdges"/>
<line x1="58.5" y1="565" x2="58.5" y2="569" stroke="#000" stroke-width="1.3"/>
<text x="44.3" y="582.8" font-size="14.2" textLength="28" lengthAdjust="spacingAndGlyphs">48W</text>
<line x1="172.5" y1="565" x2="172.5" y2="569" stroke="#000" stroke-width="1.3"/>
<text x="158.3" y="582.8" font-size="14.2" textLength="28" lengthAdjust="spacingAndGlyphs">47W</text>
<line x1="287.5" y1="565" x2="287.5" y2="569" stroke="#000" stroke-width="1.3"/>
<text x="273.3" y="582.8" font-size="14.2" textLength="28" lengthAdjust="spacingAndGlyphs">46W</text>
<line x1="401.5" y1="565" x2="401.5" y2="569" stroke="#000" stroke-width="1.3"/>
<text x="387.3" y="582.8" font-size="14.2" textLength="28" lengthAdjust="spacingAndGlyphs">45W</text>
<line x1="515.5" y1="565" x2="515.5" y2="569" stroke="#000" stroke-width="1.3"/>
<text x="501.3" y="582.8" font-size="14.2" textLength="28" lengthAdjust="spacingAndGlyphs">44W</text>
<line x1="629.5" y1="565" x2="629.5" y2="569" stroke="#000" stroke-width="1.3"/>
<text x="615.3" y="582.8" font-size="14.2" textLength="28" lengthAdjust="spacingAndGlyphs">43W</text>
<line x1="743.5" y1="565" x2="743.5" y2="569" stroke="#000" stroke-width="1.3"/>
<text x="729.3" y="582.8" font-size="14.2" textLength="28" lengthAdjust="spacingAndGlyphs">42W</text>
<line x1="31.5" y1="140.5" x2="35" y2="140.5" stroke="#000" stroke-width="1"/>
<text x="2" y="145.8" font-size="14.2" textLength="25.5" lengthAdjust="spacingAndGlyphs">22S</text>
<line x1="31.5" y1="313.5" x2="35" y2="313.5" stroke="#000" stroke-width="1"/>
<text x="2" y="318.8" font-size="14.2" textLength="25.5" lengthAdjust="spacingAndGlyphs">23S</text>
<line x1="31.5" y1="486.5" x2="35" y2="486.5" stroke="#000" stroke-width="1"/>
<text x="2" y="491.8" font-size="14.2" textLength="25.5" lengthAdjust="spacingAndGlyphs">24S</text>
<text y="28" font-size="13.8"><tspan x="214.5" textLength="146.75" lengthAdjust="spacingAndGlyphs">CPTEC/INPE/MCT</tspan> <tspan x="374.5" textLength="10" lengthAdjust="spacingAndGlyphs">-</tspan> <tspan x="407.5" textLength="25" lengthAdjust="spacingAndGlyphs">Eta</tspan> <tspan x="444.5" textLength="45.5" lengthAdjust="spacingAndGlyphs">Model</tspan> <tspan x="504.5" textLength="31" lengthAdjust="spacingAndGlyphs">1km</tspan> <tspan x="548.75" textLength="36.25" lengthAdjust="spacingAndGlyphs">Oper</tspan></text>
<text y="42.5" font-size="13.8"><tspan x="160.5" textLength="67" lengthAdjust="spacingAndGlyphs">Sensible</tspan> <tspan x="239.5" textLength="36" lengthAdjust="spacingAndGlyphs">heat</tspan> <tspan x="285.5" textLength="67" lengthAdjust="spacingAndGlyphs">(W/m2)</tspan> <tspan x="365" textLength="11.25" lengthAdjust="spacingAndGlyphs">-</tspan> <tspan x="390" textLength="106.25" lengthAdjust="spacingAndGlyphs">15/01/2022</tspan> <tspan x="508.75" textLength="53.25" lengthAdjust="spacingAndGlyphs">00UTC</tspan> <tspan x="573" textLength="66.5" lengthAdjust="spacingAndGlyphs">fct=68h</tspan></text>
<g shape-rendering="crispEdges">
<polygon points="100,581.5 100,597.5 71.5,589.2" fill="#a500c3"/>
<rect x="100.00" y="581" width="27.57" height="16.5" fill="#8f00cf"/>
<rect x="127.27" y="581" width="27.57" height="16.5" fill="#6902d9"/>
<rect x="154.54" y="581" width="27.57" height="16.5" fill="#4424e8"/>
<rect x="181.81" y="581" width="27.57" height="16.5" fill="#2042fc"/>
<rect x="209.08" y="581" width="27.57" height="16.5" fill="#146efa"/>
<rect x="236.35" y="581" width="27.57" height="16.5" fill="#00a0ff"/>
<rect x="263.62" y="581" width="27.57" height="16.5" fill="#00bedc"/>
<rect x="290.89" y="581" width="27.57" height="16.5" fill="#00c8be"/>
<rect x="318.16" y="581" width="27.57" height="16.5" fill="#00cda0"/>
<rect x="345.43" y="581" width="27.57" height="16.5" fill="#00d27d"/>
<rect x="372.70" y="581" width="27.57" height="16.5" fill="#00d728"/>
<rect x="399.97" y="581" width="27.57" height="16.5" fill="#32dc14"/>
<rect x="427.24" y="581" width="27.57" height="16.5" fill="#78e132"/>
<rect x="454.51" y="581" width="27.57" height="16.5" fill="#afe637"/>
<rect x="481.78" y="581" width="27.57" height="16.5" fill="#e1e132"/>
<rect x="509.05" y="581" width="27.57" height="16.5" fill="#ebcd32"/>
<rect x="536.32" y="581" width="27.57" height="16.5" fill="#f0b42d"/>
<rect x="563.59" y="581" width="27.57" height="16.5" fill="#f09628"/>
<rect x="590.86" y="581" width="27.57" height="16.5" fill="#f58228"/>
<rect x="618.13" y="581" width="27.57" height="16.5" fill="#f56432"/>
<rect x="645.40" y="581" width="27.57" height="16.5" fill="#fa4141"/>
<rect x="672.67" y="581" width="27.57" height="16.5" fill="#f51e5a"/>
<polygon points="699.94,581.5 699.94,597.5 727.44,589.2" fill="#eb008c"/>
<line x1="100.5" y1="582" x2="100.5" y2="597.5" stroke="#a6a6a6" stroke-width="1"/>
<line x1="127.5" y1="582" x2="127.5" y2="597.5" stroke="#a6a6a6" stroke-width="1"/>
<line x1="154.5" y1="582" x2="154.5" y2="597.5" stroke="#a6a6a6" stroke-width="1"/>
<line x1="181.5" y1="582" x2="181.5" y2="597.5" stroke="#a6a6a6" stroke-width="1"/>
<line x1="209.5" y1="582" x2="209.5" y2="597.5" stroke="#a6a6a6" stroke-width="1"/>
<line x1="236.5" y1="582" x2="236.5" y2="597.5" stroke="#a6a6a6" stroke-width="1"/>
<line x1="263.5" y1="582" x2="263.5" y2="597.5" stroke="#a6a6a6" stroke-width="1"/>
<line x1="290.5" y1="582" x2="290.5" y2="597.5" stroke="#a6a6a6" stroke-width="1"/>
<line x1="318.5" y1="582" x2="318.5" y2="597.5" stroke="#a6a6a6" stroke-width="1"/>
<line x1="345.5" y1="582" x2="345.5" y2="597.5" stroke="#a6a6a6" stroke-width="1"/>
<line x1="372.5" y1="582" x2="372.5" y2="597.5" stroke="#a6a6a6" stroke-width="1"/>
<line x1="399.5" y1="582" x2="399.5" y2="597.5" stroke="#a6a6a6" stroke-width="1"/>
<line x1="427.5" y1="582" x2="427.5" y2="597.5" stroke="#a6a6a6" stroke-width="1"/>
<line x1="454.5" y1="582" x2="454.5" y2="597.5" stroke="#a6a6a6" stroke-width="1"/>
<line x1="481.5" y1="582" x2="481.5" y2="597.5" stroke="#a6a6a6" stroke-width="1"/>
<line x1="509.5" y1="582" x2="509.5" y2="597.5" stroke="#a6a6a6" stroke-width="1"/>
<line x1="536.5" y1="582" x2="536.5" y2="597.5" stroke="#a6a6a6" stroke-width="1"/>
<line x1="563.5" y1="582" x2="563.5" y2="597.5" stroke="#a6a6a6" stroke-width="1"/>
<line x1="590.5" y1="582" x2="590.5" y2="597.5" stroke="#a6a6a6" stroke-width="1"/>
<line x1="618.5" y1="582" x2="618.5" y2="597.5" stroke="#a6a6a6" stroke-width="1"/>
<line x1="645.5" y1="582" x2="645.5" y2="597.5" stroke="#a6a6a6" stroke-width="1"/>
<line x1="672.5" y1="582" x2="672.5" y2="597.5" stroke="#a6a6a6" stroke-width="1"/>
<line x1="699.5" y1="582" x2="699.5" y2="597.5" stroke="#a6a6a6" stroke-width="1"/>
<line x1="100" y1="582.5" x2="700.94" y2="582.5" stroke="#a6a6a6" stroke-width="1"/>
<line x1="100" y1="597" x2="700.94" y2="597" stroke="#a6a6a6" stroke-width="1"/>
</g>
<text x="100" y="612.5" font-size="12.4" text-anchor="middle" textLength="26.5" lengthAdjust="spacingAndGlyphs">-100</text>
<text x="127.27" y="612.5" font-size="12.4" text-anchor="middle" textLength="20" lengthAdjust="spacingAndGlyphs">-70</text>
<text x="154.54" y="612.5" font-size="12.4" text-anchor="middle" textLength="20" lengthAdjust="spacingAndGlyphs">-40</text>
<text x="181.81" y="612.5" font-size="12.4" text-anchor="middle" textLength="20" lengthAdjust="spacingAndGlyphs">-10</text>
<text x="209.08" y="612.5" font-size="12.4" text-anchor="middle" textLength="13" lengthAdjust="spacingAndGlyphs">20</text>
<text x="236.35" y="612.5" font-size="12.4" text-anchor="middle" textLength="13" lengthAdjust="spacingAndGlyphs">50</text>
<text x="263.62" y="612.5" font-size="12.4" text-anchor="middle" textLength="13" lengthAdjust="spacingAndGlyphs">80</text>
<text x="290.89" y="612.5" font-size="12.4" text-anchor="middle" textLength="20" lengthAdjust="spacingAndGlyphs">110</text>
<text x="318.16" y="612.5" font-size="12.4" text-anchor="middle" textLength="20" lengthAdjust="spacingAndGlyphs">140</text>
<text x="345.43" y="612.5" font-size="12.4" text-anchor="middle" textLength="20" lengthAdjust="spacingAndGlyphs">170</text>
<text x="372.7" y="612.5" font-size="12.4" text-anchor="middle" textLength="20" lengthAdjust="spacingAndGlyphs">200</text>
<text x="399.97" y="612.5" font-size="12.4" text-anchor="middle" textLength="20" lengthAdjust="spacingAndGlyphs">230</text>
<text x="427.24" y="612.5" font-size="12.4" text-anchor="middle" textLength="20" lengthAdjust="spacingAndGlyphs">260</text>
<text x="454.51" y="612.5" font-size="12.4" text-anchor="middle" textLength="20" lengthAdjust="spacingAndGlyphs">290</text>
<text x="481.78" y="612.5" font-size="12.4" text-anchor="middle" textLength="20" lengthAdjust="spacingAndGlyphs">320</text>
<text x="509.05" y="612.5" font-size="12.4" text-anchor="middle" textLength="20" lengthAdjust="spacingAndGlyphs">350</text>
<text x="536.32" y="612.5" font-size="12.4" text-anchor="middle" textLength="20" lengthAdjust="spacingAndGlyphs">380</text>
<text x="563.59" y="612.5" font-size="12.4" text-anchor="middle" textLength="20" lengthAdjust="spacingAndGlyphs">410</text>
<text x="590.86" y="612.5" font-size="12.4" text-anchor="middle" textLength="20" lengthAdjust="spacingAndGlyphs">440</text>
<text x="618.13" y="612.5" font-size="12.4" text-anchor="middle" textLength="20" lengthAdjust="spacingAndGlyphs">470</text>
<text x="645.4" y="612.5" font-size="12.4" text-anchor="middle" textLength="20" lengthAdjust="spacingAndGlyphs">500</text>
<text x="672.67" y="612.5" font-size="12.4" text-anchor="middle" textLength="20" lengthAdjust="spacingAndGlyphs">530</text>
<text x="699.94" y="612.5" font-size="12.4" text-anchor="middle" textLength="20" lengthAdjust="spacingAndGlyphs">560</text>
</svg></body></html>
